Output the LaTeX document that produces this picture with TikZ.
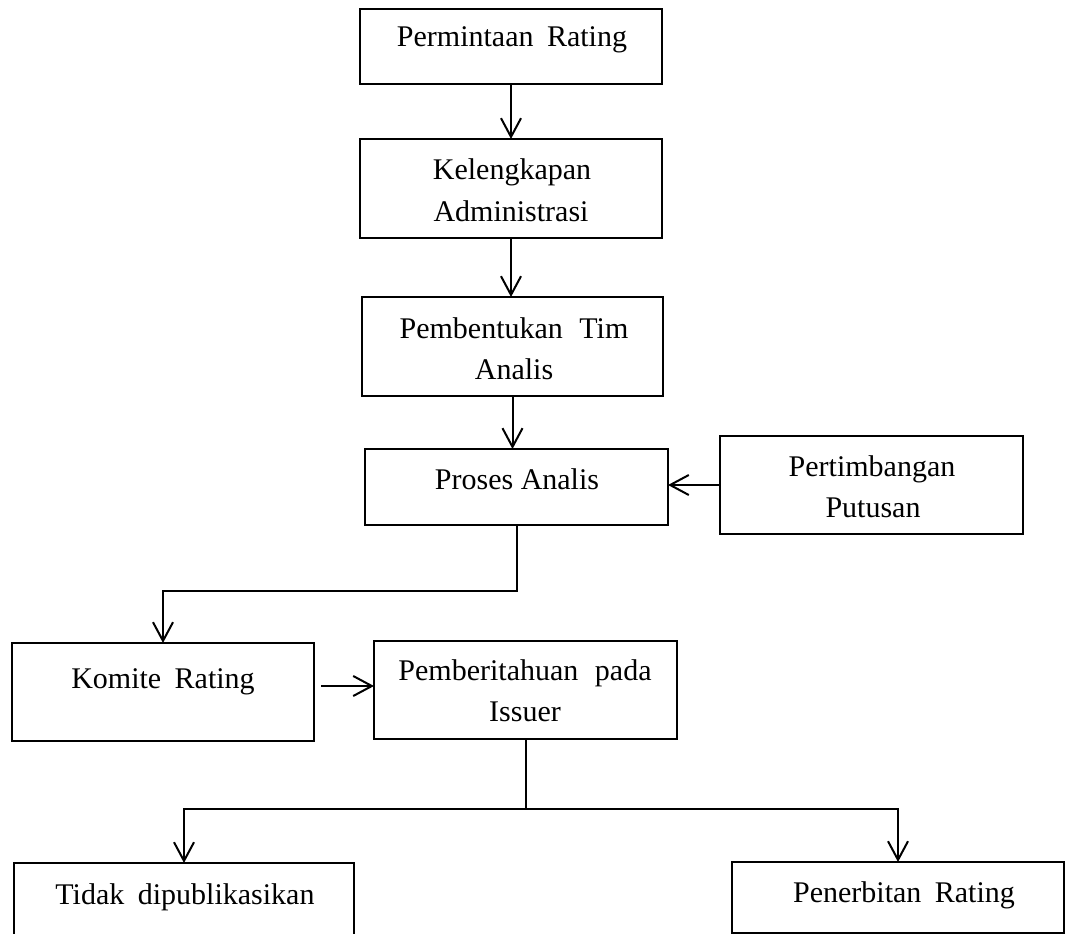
\documentclass[tikz,border=0pt]{standalone}
\usepackage{fontspec}
\setmainfont{Liberation Serif}
\usetikzlibrary{arrows.meta}
\begin{document}
\begin{tikzpicture}[x=0.75pt,y=-0.75pt,
  box/.style={draw, line width=1.5pt, inner sep=0pt, outer sep=0pt},
  lbl/.style={anchor=base, inner sep=0pt, font=\fontsize{22.5pt}{27pt}\selectfont},
  conn/.style={line width=1.5pt},
  arr/.style={conn, -{Straight Barb[length=14pt, width=15pt]}}]
\useasboundingbox (0,0) rectangle (1066,934);
\clip (0,0) rectangle (1066,934);
\fill[white] (0,0) rectangle (1066,934);
% boxes
\node[box, minimum width=226.5pt, minimum height=56.25pt] (b1) at (511,46.5) {};
\node[box, minimum width=226.5pt, minimum height=74.25pt] (b2) at (511,188.5) {};
\node[box, minimum width=225.75pt, minimum height=74.25pt] (b3) at (512.5,346.5) {};
\node[box, minimum width=227.25pt, minimum height=57pt] (b4) at (516.5,487) {};
\node[box, minimum width=227.25pt, minimum height=73.5pt] (b5) at (871.5,485) {};
\node[box, minimum width=226.5pt, minimum height=73.5pt] (b6) at (163,692) {};
\node[box, minimum width=227.25pt, minimum height=73.5pt] (b7) at (525.5,690) {};
\node[box, minimum width=255pt, minimum height=72.75pt] (b8) at (184,911.5) {};
\node[box, minimum width=249pt, minimum height=53.25pt] (b9) at (898,897.5) {};
% labels
\node[lbl] (t1) at (512,47) {Permintaan\hspace{0.2em} Rating};
\node[lbl] (t2a) at (512,180) {Kelengkapan};
\node[lbl] (t2b) at (511,222) {Administrasi};
\node[lbl] (t3a) at (514,338) {Pembentukan\hspace{0.3em} Tim};
\node[lbl] (t3b) at (514,379) {Analis};
\node[lbl] (t4) at (517,489) {Proses Analis};
\node[lbl] (t5a) at (872,476) {Pertimbangan};
\node[lbl] (t5b) at (873,517) {Putusan};
\node[lbl] (t6) at (163,688) {Komite\hspace{0.2em} Rating};
\node[lbl] (t7a) at (525,680) {Pemberitahuan\hspace{0.3em} pada};
\node[lbl] (t7b) at (525,721) {Issuer};
\node[lbl] (t8) at (185,904) {Tidak\hspace{0.2em} dipublikasikan};
\node[lbl] (t9) at (904,902) {Penerbitan\hspace{0.2em} Rating};
% connectors
\draw[arr] (b1.south) -- (b1.south |- b2.north);
\draw[arr] (b2.south) -- (b2.south |- b3.north);
\draw[arr] (b3.south) -- (b3.south |- b4.north);
\draw[arr] (b5.west) -- (b5.west -| b4.east);
\draw[arr] (b4.south) -- ++(0,66) -| (b6.north);
\draw[arr] ([xshift=5.25pt,yshift=4.5pt]b6.east) -- ([yshift=3pt]b7.west);
\draw[conn] (b7.south) -- ++(0,70) coordinate (j2);
\draw[arr] (j2) -| (b8.north);
\draw[arr] (j2) -| (b9.north);
\end{tikzpicture}
\end{document}
